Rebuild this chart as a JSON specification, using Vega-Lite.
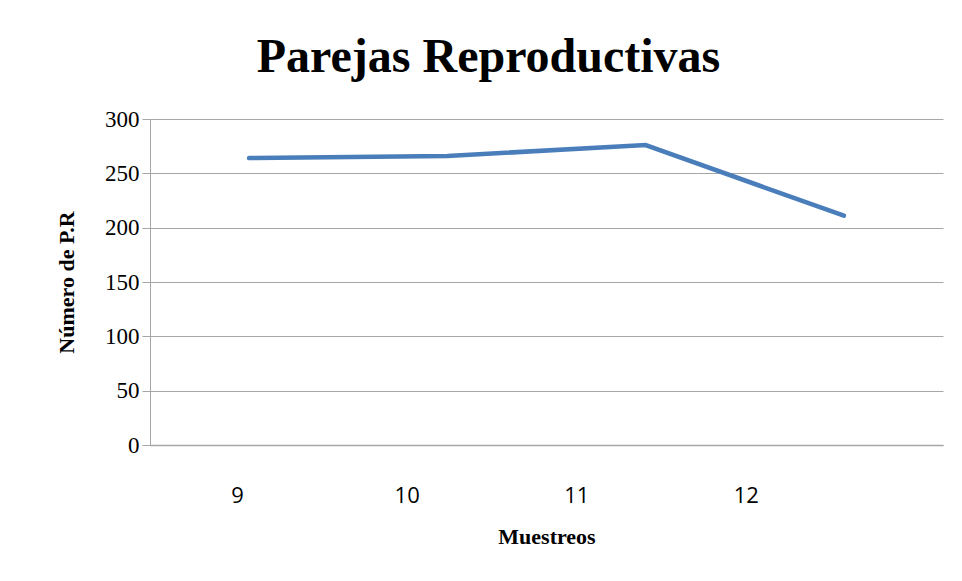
{
  "$schema": "https://vega.github.io/schema/vega-lite/v6.json",
  "autosize": "none",
  "width": 793,
  "height": 326,
  "padding": {"left": 150, "top": 119, "right": 19, "bottom": 136},
  "background": "white",
  "title": {
    "text": "Parejas Reproductivas",
    "font": "Liberation Serif",
    "fontSize": 48,
    "fontWeight": "bold",
    "color": "black",
    "anchor": "middle",
    "dx": -58,
    "offset": 26
  },
  "data": {
    "values": [
      {"Muestreo": 9, "PR": 264},
      {"Muestreo": 10, "PR": 266},
      {"Muestreo": 11, "PR": 276},
      {"Muestreo": 12, "PR": 211}
    ]
  },
  "mark": {"type": "line", "color": "#4a7ebb", "strokeWidth": 4.5, "strokeCap": "round"},
  "encoding": {
    "x": {
      "field": "Muestreo",
      "type": "ordinal",
      "scale": {"type": "point", "padding": 0.5},
      "axis": {
        "title": "Muestreos",
        "titleFont": "Liberation Serif",
        "titleFontSize": 22,
        "titleFontWeight": "bold",
        "titleColor": "black",
        "titlePadding": 20,
        "labelFont": "Open Sans",
        "labelFontSize": 22,
        "labelColor": "black",
        "labelAngle": 0,
        "labelPadding": 40,
        "labelOffset": {"expr": "-12 - 28.7 * (datum.value - 9)"},
        "ticks": false,
        "domain": true,
        "domainColor": "#a6a6a6",
        "domainWidth": 1.5,
        "grid": false
      }
    },
    "y": {
      "field": "PR",
      "type": "quantitative",
      "scale": {"domain": [0, 300]},
      "axis": {
        "title": "Número de P.R",
        "titleFont": "Liberation Serif",
        "titleFontSize": 22,
        "titleFontWeight": "bold",
        "titleColor": "black",
        "titlePadding": 26,
        "values": [0, 50, 100, 150, 200, 250, 300],
        "labelFont": "Liberation Serif",
        "labelFontSize": 23,
        "labelColor": "black",
        "labelPadding": 3,
        "tickSize": 8,
        "tickColor": "#a6a6a6",
        "domainColor": "#a6a6a6",
        "gridColor": "#a6a6a6",
        "gridWidth": 1.2
      }
    }
  },
  "config": {"view": {"stroke": null}}
}
